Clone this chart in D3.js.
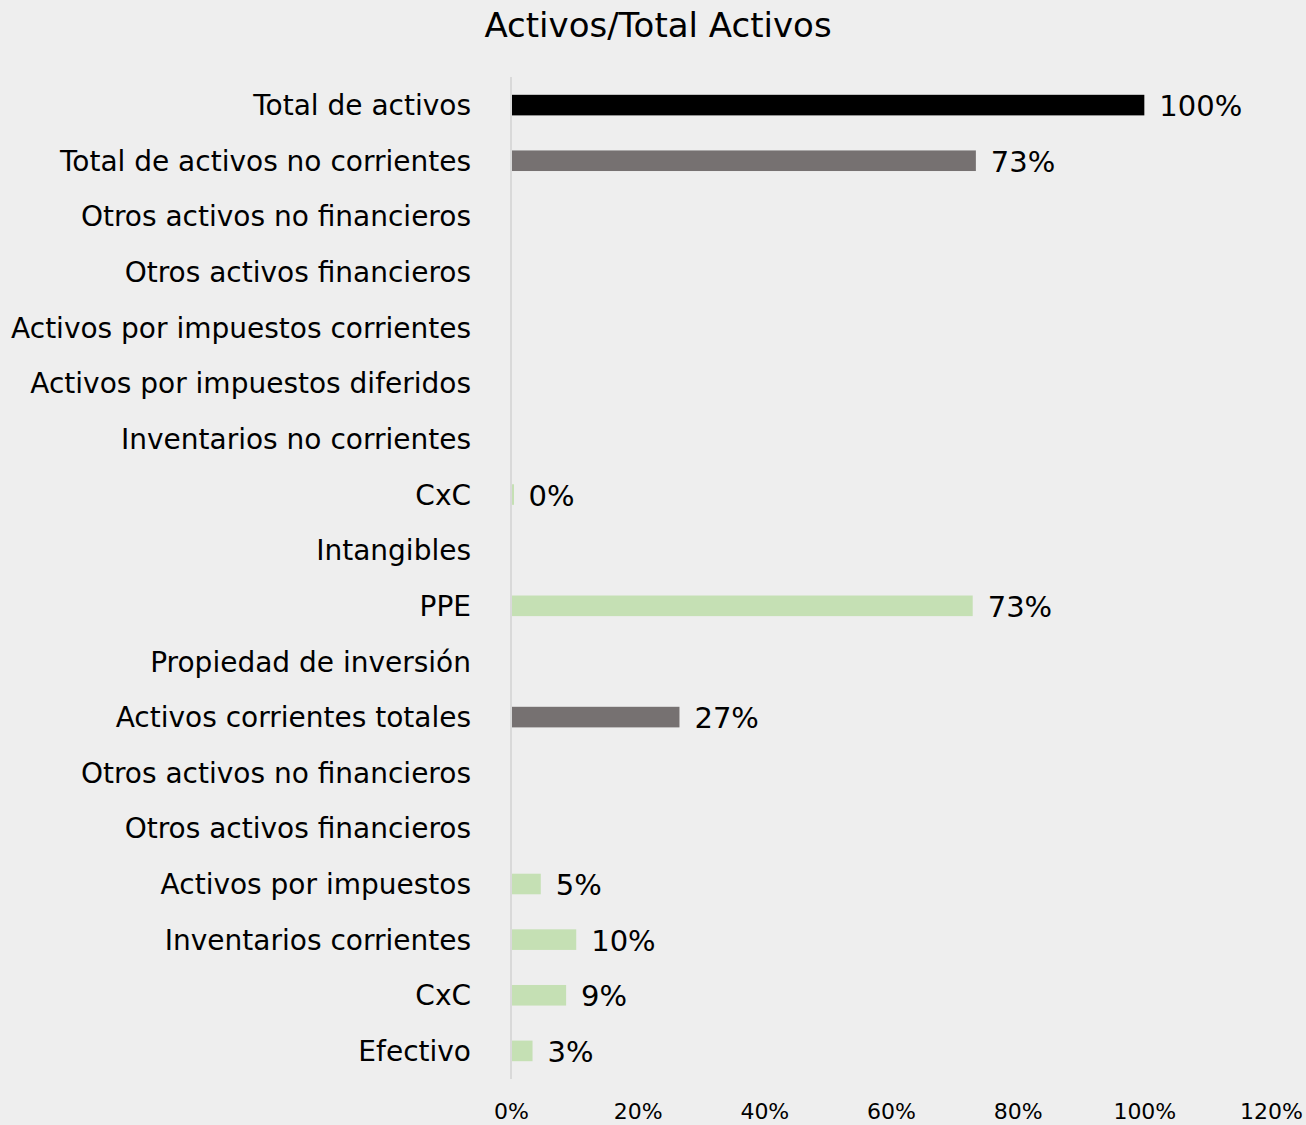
<!DOCTYPE html>
<html>
<head>
<meta charset="utf-8">
<script src="https://cdn.jsdelivr.net/npm/d3@7"></script>
<style>
  body { margin: 0; background: #eeeeee; }
  svg { display: block; font-family: Tahoma, "DejaVu Sans", sans-serif; }
</style>
</head>
<body>
<div class="barchart"></div>
<script>
const width = 1306;
const height = 1125;

const title = "Activos/Total Activos";
const categories = [
  "Total de activos",
  "Total de activos no corrientes",
  "Otros activos no financieros",
  "Otros activos financieros",
  "Activos por impuestos corrientes",
  "Activos por impuestos diferidos",
  "Inventarios no corrientes",
  "CxC",
  "Intangibles",
  "PPE",
  "Propiedad de inversión",
  "Activos corrientes totales",
  "Otros activos no financieros",
  "Otros activos financieros",
  "Activos por impuestos",
  "Inventarios corrientes",
  "CxC",
  "Efectivo",
];
// share of total assets, % (null = no bar)
const values = [100, 73.4, null, null, null, null, null, 0.4, null, 72.9, null, 26.6, null, null, 4.7, 10.3, 8.7, 3.4];
// bar kind: total, subtotal, item
const kinds = ["total", "subtotal", "item", "item", "item", "item", "item", "item", "item", "item", "item",
  "subtotal", "item", "item", "item", "item", "item", "item"];
const xTicks = [0, 20, 40, 60, 80, 100, 120];

const colors = { total: "#000000", subtotal: "#767171", item: "#c5e0b4" };

const margin = { left: 511, right: 35, top: 77, bottom: 46 };

const rows = categories.map((c, i) => ({ id: i, name: c, value: values[i], kind: kinds[i] }));

let svg = d3.select(".barchart").append("svg").attr("width", width).attr("height", height);

svg.append("rect").attr("width", width).attr("height", height).attr("fill", "#eeeeee");

let xScale = d3.scaleLinear().domain([0, 120]).range([margin.left, width - margin.right]);
let yScale = d3
  .scaleBand()
  .domain(rows.map((d) => d.id))
  .range([margin.top, height - margin.bottom])
  .paddingInner(0.63)
  .paddingOuter(0.32);

svg
  .append("text")
  .text(title)
  .attr("x", 658)
  .attr("y", 37)
  .attr("text-anchor", "middle")
  .attr("font-size", 34)
  .attr("fill", "#000");

// vertical axis line
svg
  .append("line")
  .attr("x1", xScale(0))
  .attr("x2", xScale(0))
  .attr("y1", margin.top)
  .attr("y2", height - margin.bottom)
  .attr("stroke", "#d9d9d9")
  .attr("stroke-width", 2);

svg
  .append("g")
  .selectAll("rect")
  .data(rows.filter((d) => d.value != null))
  .enter()
  .append("rect")
  .attr("x", xScale(0) + 1)
  .attr("y", (d) => yScale(d.id))
  .attr("width", (d) => Math.max(xScale(d.value) - xScale(0) - 1, 2))
  .attr("height", yScale.bandwidth())
  .attr("fill", (d) => colors[d.kind]);

// value labels
svg
  .append("g")
  .selectAll("text")
  .data(rows.filter((d) => d.value != null))
  .enter()
  .append("text")
  .text((d) => Math.round(d.value) + "%")
  .attr("x", (d) => xScale(d.value) + 15)
  .attr("y", (d) => yScale(d.id) + yScale.bandwidth() / 2)
  .attr("dy", "0.38em")
  .attr("font-size", 29)
  .attr("fill", "#000");

// category labels
svg
  .append("g")
  .selectAll("text")
  .data(rows)
  .enter()
  .append("text")
  .text((d) => d.name)
  .attr("x", xScale(0) - 40)
  .attr("y", (d) => yScale(d.id) + yScale.bandwidth() / 2)
  .attr("dy", "0.36em")
  .attr("text-anchor", "end")
  .attr("font-size", 28)
  .attr("fill", "#000");

let xAxis = d3
  .axisBottom(xScale)
  .tickValues(xTicks)
  .tickFormat((d) => d + "%")
  .tickSize(0)
  .tickPadding(0);
let gx = svg
  .append("g")
  .attr("transform", "translate(0," + (height - 6) + ")")
  .call(xAxis)
  .attr("font-family", null)
  .attr("font-size", null);
gx.select(".domain").remove();
gx.selectAll("text").attr("dy", 0).attr("font-size", 22).attr("fill", "#000");
</script>
</body>
</html>
